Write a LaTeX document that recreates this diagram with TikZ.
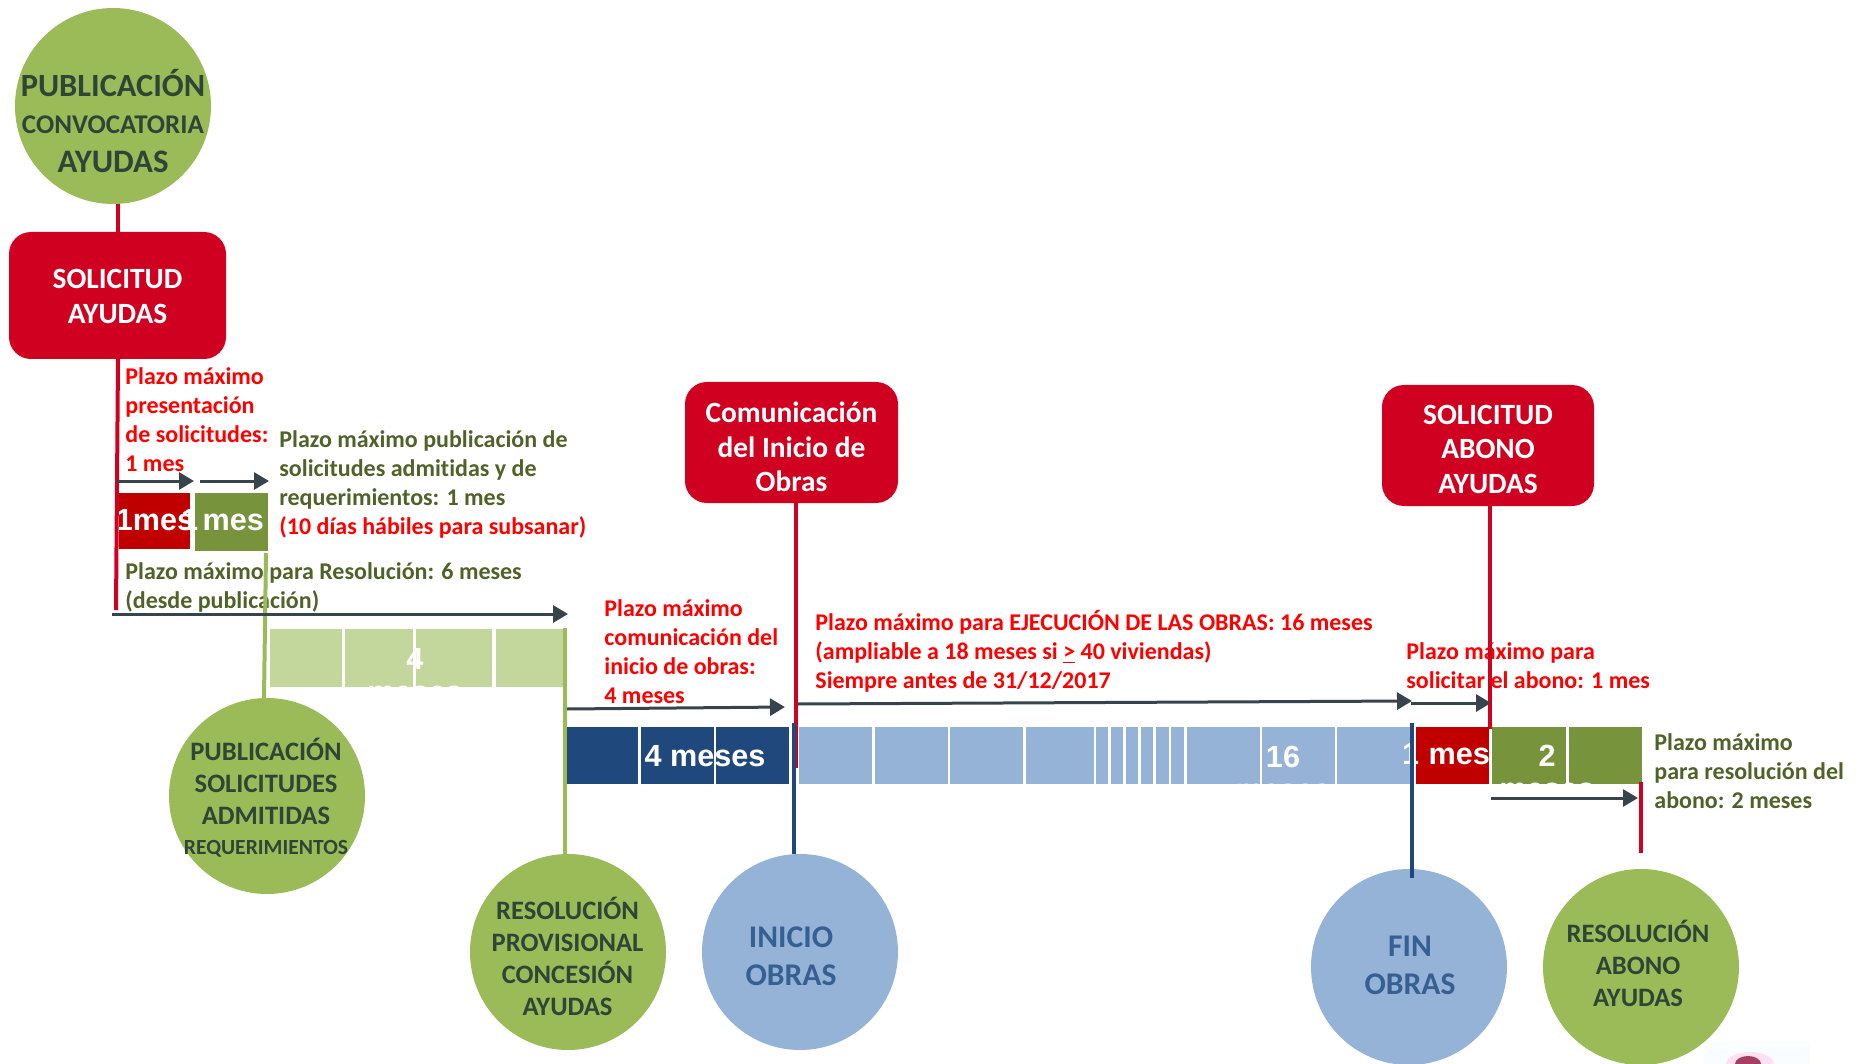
\documentclass[tikz,border=0pt]{standalone}
\usepackage{fontspec}
\setmainfont[Ligatures=NoCommon]{Carlito}
\newfontfamily\arialf{Liberation Sans}
\usetikzlibrary{arrows.meta,shapes.geometric}
\definecolor{cgreen}{HTML}{9BBB59}
\definecolor{cblue}{HTML}{95B3D7}
\definecolor{boxred}{HTML}{D00020}
\definecolor{barred}{HTML}{C00000}
\definecolor{bargreen}{HTML}{77933C}
\definecolor{barlight}{HTML}{C3D69B}
\definecolor{bardark}{HTML}{1F497D}
\definecolor{txtred}{HTML}{FF0000}
\definecolor{txtolive}{HTML}{4F6228}
\definecolor{arrowc}{HTML}{37444B}
\definecolor{circtxt}{HTML}{2F4636}
\definecolor{bluetxt}{HTML}{376092}
\tikzset{
  x=0.5pt,y=-0.5pt,
  circnode/.style={ellipse,minimum width=98pt,minimum height=98pt,inner sep=0pt},
  gcirc/.style={circnode,fill=cgreen},
  bcirc/.style={circnode,fill=cblue},
  redbox/.style={rectangle,rounded corners=11pt,fill=boxred,text=white,inner sep=0pt,align=center,
     font=\fontsize{14.7}{17.2}\selectfont\bfseries},
  note/.style={anchor=west,align=left,inner sep=0pt,font=\fontsize{12}{14.5}\selectfont\bfseries},
  redtxt/.style={note,text=txtred},
  olivetxt/.style={note,text=txtolive},
  circlabel/.style={align=center,inner sep=0pt,text=circtxt,font=\fontsize{13.3}{16}\selectfont\bfseries},
  bluelabel/.style={align=center,inner sep=0pt,text=bluetxt,font=\fontsize{15.8}{19}\selectfont\bfseries},
  barlabel/.style={align=center,inner sep=0pt,text=white,font=\fontsize{15.3}{16.3}\selectfont\arialf\bfseries},
  span/.style={draw=arrowc,line width=1.5pt,-{Triangle[length=7.5pt,width=8.5pt]}},
  redline/.style={draw=boxred,line width=2pt},
  greenline/.style={draw=cgreen,line width=2pt},
  blueline/.style={draw=bardark,line width=2pt},
}
\begin{document}
\begin{tikzpicture}
\useasboundingbox (0,0) rectangle (1859,1064);
% bars
\fill[barred] (119,493) rectangle (190,549);
\fill[bargreen] (195,493) rectangle (268,551);
\foreach \a/\b in {270/342,345/413,416/492,496/564}
  \fill[barlight] (\a,629) rectangle (\b,687);
\foreach \a/\b in {567/638,641/714,716/789}
  \fill[bardark] (\a,727) rectangle (\b,784);
\foreach \a/\b in {799/872,875/948,950/1023,1026/1094,1096/1108,1111/1123,1126/1138,1141/1153,1156/1169,1171/1184,1187/1260,1262/1335,1337/1411}
  \fill[cblue] (\a,727) rectangle (\b,784);
\fill[barred] (1416,727) rectangle (1489,784);
\fill[bargreen] (1492,727) rectangle (1566,784);
\fill[bargreen] (1569,727) rectangle (1642,784);
% bar labels
\node[barlabel] (l1) at (155,520) {1mes};
\node[barlabel] (l2) at (222.5,520) {1\kern-2pt{} mes};
\node[barlabel,anchor=north] (l3) at (415,648) {4\\meses};
\node[barlabel,anchor=north] (l5) at (1283,746) {16\\meses};
\node[barlabel,anchor=north] (l7) at (1547,745) {2\\meses};
\node[barlabel] (l4) at (705,756) {4 meses};
\node[barlabel] (l6) at (1446,754) {1\kern0.5pt{} mes};
% notes
\node[redtxt] (n1) at (125,420) {Plazo máximo\\presentación\\de solicitudes:\\1 mes};
\node[olivetxt] (n2) at (279,484.5) {Plazo máximo publicación de\\solicitudes admitidas y de\\requerimientos: 1 mes\\\textcolor{txtred}{(10 días hábiles para subsanar)}};
\node[olivetxt] (n3) at (125,587) {Plazo máximo para Resolución: 6 meses\\(desde publicación)};
\node[redtxt] (n4) at (604,651.5) {Plazo máximo\\comunicación del\\inicio de obras:\\4 meses};
\node[redtxt] (n5) at (815,651) {Plazo máximo para EJECUCIÓN DE LAS OBRAS: 16 meses\\(ampliable a 18 meses si \underline{>} 40 viviendas)\\Siempre antes de 31/12/2017};
\node[redtxt] (n6) at (1406,666) {Plazo máximo para\\solicitar el abono: 1 mes};
\node[olivetxt] (n7) at (1654,771) {Plazo máximo\\para resolución del\\abono: 2 meses};
% image fragment at the lower right
\fill[white!98!cyan] (1703,1042) rectangle (1810,1064);
\fill[magenta!12] (1750,1064) ellipse (24 and 12);
\fill[black!30!purple!75] (1748,1064) ellipse (13 and 8);
% circles
\node[gcirc] (c1) at (113,106) {};
\node[gcirc] (c2) at (267,796) {};
\node[gcirc] (c3) at (568,952) {};
\node[bcirc] (c4) at (800,952) {};
\node[bcirc] (c5) at (1409,967) {};
\node[gcirc] (c6) at (1641,967) {};
% boxes
\node[redbox,minimum width=108.5pt,minimum height=63.5pt] (b1) at (117.5,295.5) {\rule{0pt}{10.8pt}SOLICITUD\\AYUDAS};
\node[redbox,minimum width=106.5pt,minimum height=60.5pt] (b2) at (791.5,442.5) {\rule{0pt}{15pt}Comunicación\\del Inicio de\\Obras};
\node[redbox,minimum width=106pt,minimum height=60.5pt] (b3) at (1488,445.5) {\rule{0pt}{13.3pt}SOLICITUD\\ABONO\\AYUDAS};
% free ends of connectors
\coordinate (e1) at (116,610);
\coordinate (e2a) at (266,553);
\coordinate (e3a) at (565,628);
\coordinate (e4) at (796,768);
\coordinate (e5a) at (794,723);
\coordinate (e6) at (1490,729);
\coordinate (e7a) at (1412,723);
\coordinate (e8a) at (1641,782);
\coordinate (e8b) at (1641,853);
% connectors
\draw[redline] (118,204) -- (118,232);
\draw[redline] (118,359) -- (e1);
\draw[greenline] (e2a) -- (264,698);
\draw[greenline] (e3a) -- (565,854);
\draw[redline] (796,503) -- (e4);
\draw[blueline] (e5a) -- (794,854);
\draw[redline] (1490,506) -- (e6);
\draw[blueline] (e7a) -- (1412,878);
\draw[redline] (e8a) -- (e8b);
% spans
\draw[span] (117,481) -- (194,481);
\draw[span] (200,481) -- (269,481);
\draw[span] (112,614) -- (568,614);
\draw[span] (567,709) -- (785,707);
\draw[span] (798,704) -- (1412,701);
\draw[span] (1411,703) -- (1491,703);
\draw[span] (1491,798) -- (1638,798);
% circle labels
\node[circlabel] (t1) at (113,121) {{\fontsize{16.2}{18}\selectfont PUBLICACIÓN}\\[2.5pt]{\fontsize{13.5}{16}\selectfont CONVOCATORIA}\\[3.5pt]{\fontsize{16.4}{18}\selectfont AYUDAS}};
\node[circlabel] (t2) at (266,797.5) {PUBLICACIÓN\\SOLICITUDES\\ADMITIDAS\\[-1pt]{\fontsize{10.8}{12}\selectfont REQUERIMIENTOS}};
\node[circlabel] (t3) at (567.5,956) {RESOLUCIÓN\\PROVISIONAL\\CONCESIÓN\\AYUDAS};
\node[bluelabel] (t4) at (791,956) {INICIO\\OBRAS};
\node[bluelabel] (t5) at (1410,965) {FIN\\OBRAS};
\node[circlabel] (t6) at (1638,963) {RESOLUCIÓN\\ABONO\\AYUDAS};
\end{tikzpicture}
\end{document}
